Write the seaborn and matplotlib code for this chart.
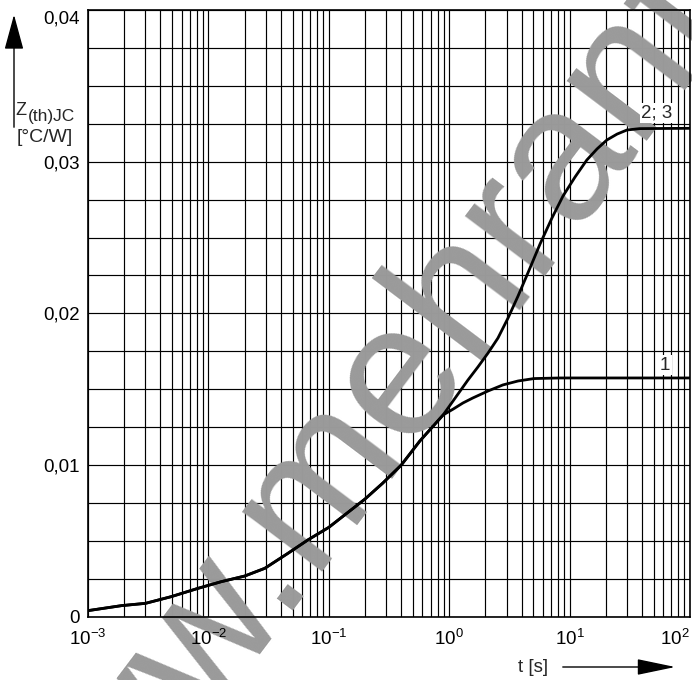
import numpy as np
import pandas as pd
import matplotlib
matplotlib.use("Agg")
import matplotlib.pyplot as plt
import seaborn as sns
from matplotlib.patches import FancyArrowPatch
from matplotlib.ticker import FixedLocator, NullFormatter

sns.set_theme(style="white")
plt.rcParams["font.family"] = ["Liberation Sans", "DejaVu Sans"]
plt.rcParams["mathtext.fontset"] = "custom"
plt.rcParams["mathtext.rm"] = "Liberation Sans"
plt.rcParams["mathtext.it"] = "Liberation Sans"
plt.rcParams["mathtext.default"] = "rm"

# Transient thermal impedance junction-to-case: part shared by both curves
t_common = [1e-3, 1.9e-3, 3e-3, 4.9e-3, 8.2e-3, 0.0128, 0.02, 0.0294, 0.0458, 0.067, 0.1,
            0.2, 0.28, 0.4, 0.57, 0.89]
z_common = [0.0004, 0.00073, 0.00088, 0.00132, 0.00187, 0.00231, 0.00268, 0.00319, 0.00418,
            0.00506, 0.00589, 0.00776, 0.0088, 0.0100, 0.01158, 0.0133]

# Curve 1
t_curve1 = [1.08, 1.30, 1.57, 2.10, 2.79, 3.73, 5.05, 8.3, 100]
z_curve1 = [0.01369, 0.01409, 0.01442, 0.01488, 0.01528, 0.01554, 0.01570, 0.01574, 0.01574]

# Curves 2; 3
t_curve23 = [1.43, 1.73, 2.10, 2.54, 3.08, 3.73, 4.69, 5.68, 7.14, 8.82, 11.1, 13.9, 16.9,
             20.4, 24.8, 30.0, 38.4, 100]
z_curve23 = [0.0156, 0.01646, 0.01738, 0.01837, 0.01969, 0.02114, 0.02299, 0.02457, 0.02629,
             0.02774, 0.02899, 0.03011, 0.03084, 0.03143, 0.03182, 0.03209, 0.03218, 0.0322]

curve_names = ["1", "2; 3"]
label_pos = {"1": (62, 0.01659), "2; 3": (53, 0.0332)}

y_major = [0, 0.01, 0.02, 0.03, 0.04]
y_labels = ["0", "0,01", "0,02", "0,03", "0,04"]
x_major = [1e-3, 1e-2, 1e-1, 1e0, 1e1, 1e2]
x_labels = [r"$10^{-3}$", r"$10^{-2}$", r"$10^{-1}$", r"$10^{0}$", r"$10^{1}$", r"$10^{2}$"]

frames = []
for name, tt, zz in [("1", t_curve1, z_curve1), ("2; 3", t_curve23, z_curve23)]:
    frames.append(pd.DataFrame({"t": t_common + tt, "z": z_common + zz, "curve": name}))
df = pd.concat(frames, ignore_index=True)

W, H = 692, 680
rect = [88 / W, 1 - 616.7 / H, (690 - 88) / W, (616.7 - 10) / H]
fig = plt.figure(figsize=(W / 100, H / 100), dpi=100)
ax = fig.add_axes(rect)


def setup_scales(a):
    a.set_xscale("log")
    a.set_xlim(1e-3, 1e2)
    a.set_ylim(0, 0.04)
    a.set_xticks(x_major, x_labels)
    a.set_yticks(y_major, y_labels)


# main axes: grid, watermark and curves
setup_scales(ax)
minor_x = [m * 10.0 ** e for e in range(-3, 2) for m in range(2, 10)]
ax.xaxis.set_minor_locator(FixedLocator(minor_x))
ax.xaxis.set_minor_formatter(NullFormatter())
ax.yaxis.set_minor_locator(FixedLocator(np.arange(0, 0.04001, 0.0025)))
ax.grid(True, which="both", axis="both", color="black", linewidth=0.85)
ax.set_axisbelow(True)
ax.tick_params(axis="both", which="both", length=0, labelbottom=False, labelleft=False)
for s in ax.spines.values():
    s.set_color("black")
    s.set_linewidth(1.2)

sns.lineplot(data=df, x="t", y="z", units="curve", estimator=None, sort=False,
             color="black", linewidth=2.0, ax=ax, zorder=4, legend=False)
ax.set_xlabel("")
ax.set_ylabel("")

for name in curve_names:
    x, y = label_pos[name]
    ax.text(x, y, name, fontsize=13.5, ha="center", va="center", zorder=5,
            bbox=dict(facecolor="white", edgecolor="none", pad=1.0))

# watermark, placed so that its "e" is centred on a given point
wm_text, wm_size, wm_angle = "www.mehrantech.com", 137, 53.0
e_center = np.array([403.0, H - 383.0])
renderer = fig.canvas.get_renderer()


def text_width(s):
    tmp = fig.text(0, 0, s, fontsize=wm_size)
    w = tmp.get_window_extent(renderer).width
    tmp.remove()
    return w


adv = text_width("www.me") - text_width("e") / 2
xh = 0.519 * wm_size * 100 / 72
ang = np.deg2rad(wm_angle)
d = np.array([np.cos(ang), np.sin(ang)])
u = np.array([-np.sin(ang), np.cos(ang)])
start = e_center - adv * d - (xh / 2) * u
ax.text(start[0] / W, start[1] / H, wm_text, transform=fig.transFigure,
        fontsize=wm_size, color="#9a9a9a", rotation=wm_angle, rotation_mode="anchor",
        ha="left", va="baseline", zorder=1, clip_on=False)

# overlay axes carrying the tick labels above the watermark
ax_lbl = fig.add_axes(rect, zorder=ax.get_zorder() + 1)
setup_scales(ax_lbl)
ax_lbl.patch.set_visible(False)
ax_lbl.xaxis.set_minor_locator(FixedLocator([]))
for s in ax_lbl.spines.values():
    s.set_visible(False)
ax_lbl.grid(False)
ax_lbl.tick_params(axis="both", which="both", length=0, labelsize=13.5, colors="black")
ax_lbl.tick_params(axis="x", pad=9)
ax_lbl.tick_params(axis="y", pad=6)
ax_lbl.get_yticklabels()[-1].set_verticalalignment("top")
ax_lbl.get_xticklabels()[-1].set_horizontalalignment("right")

# y-axis label with arrow
fig.text(15 / W, 1 - 115 / H, "Z", fontsize=13, ha="left", va="baseline")
fig.text(28 / W, 1 - 121 / H, "(th)JC", fontsize=12.5, ha="left", va="baseline")
fig.text(17 / W, 1 - 137 / H, "[°C/W]", fontsize=14, ha="left", va="center")
fig.add_artist(FancyArrowPatch(
    (14 / W, 1 - 130 / H), (14 / W, 1 - 12 / H), transform=fig.transFigure,
    arrowstyle="-|>,head_length=1.1,head_width=0.3", mutation_scale=20,
    color="black", linewidth=1.0))

# x-axis label with arrow
fig.text(533 / W, 1 - 668 / H, "t [s]", fontsize=13.5, ha="center", va="center")
fig.add_artist(FancyArrowPatch(
    (560 / W, 1 - 667 / H), (678 / W, 1 - 667 / H), transform=fig.transFigure,
    arrowstyle="-|>,head_length=1.2,head_width=0.25", mutation_scale=20,
    color="black", linewidth=1.0))

fig.savefig("out.png", dpi=100)
